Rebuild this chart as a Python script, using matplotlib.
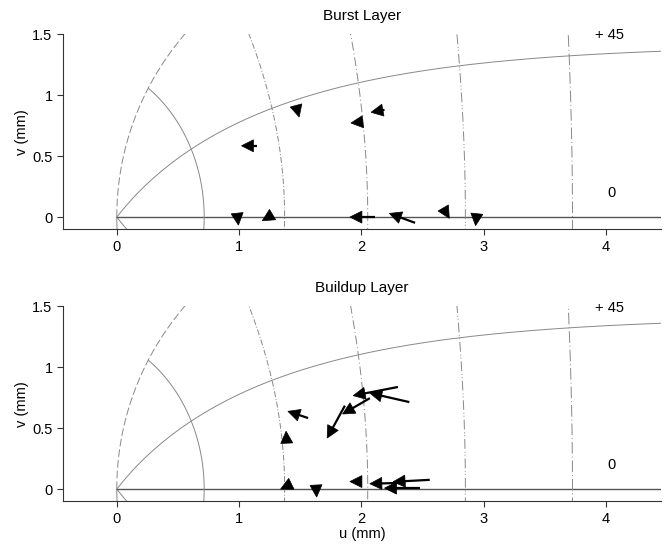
import numpy as np
import matplotlib
matplotlib.use("Agg")
import matplotlib.pyplot as plt
from matplotlib.patches import Polygon

plt.rcParams['font.family'] = ['Liberation Sans', 'DejaVu Sans']

# Collicular map model parameters (Ottes et al.)
BU, BV, A = 1.4, 1.8, 3.0
amplitudes = [2, 5, 10, 20, 40]          # iso-amplitude lines (deg)
directions = [-90, -45, 0, 45, 90]       # iso-direction lines (deg)
amp_styles = ['-', (0, (6, 2, 1, 2)), (0, (9, 3, 1, 3)), (0, (10, 3, 1, 2, 1, 3)), (0, (12, 3, 1, 3))]

# Burst layer vectors (tail -> tip), in mm
burst_tail_u = [1.468, 2.010, 2.19, 1.143, 0.985, 1.270, 2.11, 2.44, 2.672, 2.945]
burst_tail_v = [0.910, 0.782, 0.880, 0.585, 0.028, 0.018, 0.00, -0.047, 0.072, 0.025]
burst_tip_u = [1.492, 1.915, 2.08, 1.020, 0.995, 1.190, 1.907, 2.23, 2.720, 2.935]
burst_tip_v = [0.821, 0.772, 0.86, 0.585, -0.066, -0.030, 0.00, 0.03, -0.010, -0.070]

# Buildup layer vectors (tail -> tip), in mm
buildup_tail_u = [2.30, 2.393, 2.07, 1.866, 1.565, 1.390, 1.425, 1.630, 2.002, 2.56, 2.36, 2.48]
buildup_tail_v = [0.838, 0.714, 0.746, 0.685, 0.583, 0.380, 0.042, 0.030, 0.062, 0.076, 0.052, 0.008]
buildup_tip_u = [1.934, 2.07, 1.847, 1.721, 1.40, 1.385, 1.340, 1.635, 1.907, 2.26, 2.07, 2.19]
buildup_tip_v = [0.767, 0.788, 0.616, 0.419, 0.638, 0.475, 0.000, -0.065, 0.062, 0.06, 0.044, 0.008]

titles = ["Burst Layer", "Buildup Layer"]
xticks = [0, 1, 2, 3, 4]
yticks = [0, 0.5, 1, 1.5]
yticklabels = ["0", "0.5", "1", "1.5"]

HEAD_LEN_PX = 12.0
HEAD_HALF_W_PX = 6.0


def to_map(R, phi_deg):
    phi = np.deg2rad(phi_deg)
    u = BU * np.log(np.sqrt(R**2 + 2 * A * R * np.cos(phi) + A**2) / A)
    v = BV * np.arctan2(R * np.sin(phi), R * np.cos(phi) + A)
    return u, v


def draw_vector(ax, tail, tip):
    tr = ax.transData
    inv = tr.inverted()
    p0 = np.array(tr.transform(tail))
    p1 = np.array(tr.transform(tip))
    d = p1 - p0
    n = np.hypot(*d)
    d = d / n
    perp = np.array([-d[1], d[0]])
    base = p1 - HEAD_LEN_PX * d
    if n > HEAD_LEN_PX:
        s0, s1 = inv.transform(p0), inv.transform(base + 1.0 * d)
        ax.plot([s0[0], s1[0]], [s0[1], s1[1]], color='black', lw=1.6,
                solid_capstyle='butt', zorder=3)
    pts = np.array([p1, base + HEAD_HALF_W_PX * perp, base - HEAD_HALF_W_PX * perp])
    ax.add_patch(Polygon(inv.transform(pts), closed=True, facecolor='black',
                         edgecolor='black', lw=0.5, zorder=4))


fig = plt.figure(figsize=(6.65, 5.45), dpi=100)
ax_top = fig.add_axes([0.0947, 0.5793, 0.8990, 0.3578])
ax_bot = fig.add_axes([0.0947, 0.0802, 0.8990, 0.3578])

datasets = [
    (burst_tail_u, burst_tail_v, burst_tip_u, burst_tip_v),
    (buildup_tail_u, buildup_tail_v, buildup_tip_u, buildup_tip_v),
]

for ax, title, (tu, tv, pu, pv) in zip([ax_top, ax_bot], titles, datasets):
    ax.set_xlim(-0.44, 4.45)
    ax.set_ylim(-0.1, 1.5)
    ax.set_autoscale_on(False)

    # iso-direction lines
    Rs = np.concatenate([np.linspace(0, 5, 400), np.linspace(5, 200, 800)])
    for d in directions:
        u, v = to_map(Rs, d)
        if d == 0:
            ax.plot(u, v, color='#555555', lw=1.0, zorder=1)
        elif d == 90:
            ax.plot(u, v, color='#888888', lw=0.7, ls=(0, (8, 3)), zorder=1)
        else:
            ax.plot(u, v, color='#888888', lw=0.7, zorder=1)
    # iso-amplitude lines
    phis = np.linspace(-90, 90, 400)
    for R, st in zip(amplitudes, amp_styles):
        u, v = to_map(R, phis)
        ax.plot(u, v, color='#888888', lw=0.7, ls=st, zorder=1)

    # vectors
    for a, b, c, e in zip(tu, tv, pu, pv):
        draw_vector(ax, (a, b), (c, e))

    ax.text(4.03, 1.49, '+ 45', ha='center', va='center', fontsize=10.5)
    ax.text(4.05, 0.20, '0', ha='center', va='center', fontsize=10.5)

    ax.set_xticks(xticks)
    ax.set_xticklabels([str(t) for t in xticks])
    ax.set_yticks(yticks)
    ax.set_yticklabels(yticklabels)
    ax.spines['top'].set_visible(False)
    ax.spines['right'].set_visible(False)
    for s in ['left', 'bottom']:
        ax.spines[s].set_color('#333333')
        ax.spines[s].set_linewidth(0.8)
    ax.tick_params(direction='out', length=4, width=0.8, color='#333333', labelsize=10.5)
    ax.set_ylabel('v (mm)', fontsize=10.5, labelpad=2)
    ax.set_title(title, fontsize=11, pad=10)

ax_bot.set_xlabel('u (mm)', fontsize=10.5, labelpad=1)

fig.savefig('out.png', dpi=100)
